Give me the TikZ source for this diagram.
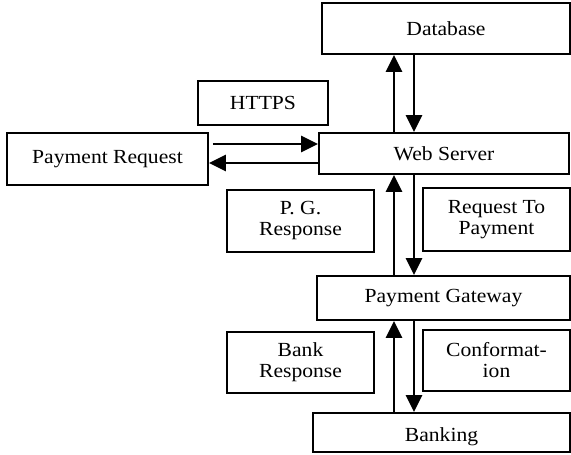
\documentclass[tikz,border=0pt]{standalone}
\usepackage{fontspec}
\setmainfont{Liberation Serif}[FakeStretch=1.08]
\usetikzlibrary{arrows.meta}
\begin{document}
\begin{tikzpicture}[x=1pt,y=-1pt,
  box/.style={draw,line width=1.8pt,inner sep=0pt,align=center,font=\fontsize{20}{21}\selectfont},
  arr/.style={line width=2.6pt,-{Triangle[width=16pt,length=17pt]}}]
\useasboundingbox (0,0) rectangle (571,455);
\node[box,minimum width=248,minimum height=51] (db) at (446,28.5) {Database};
\node[box,minimum width=130,minimum height=44] (https) at (263,103) {HTTPS};
\node[box,minimum width=201,minimum height=52] (pr) at (107.5,159) {Payment Request};
\node[box,minimum width=250,minimum height=41] (ws) at (444,153.5) {Web Server};
\node[box,minimum width=147,minimum height=62] (pgr) at (300.5,221) {P. G.\\Response};
\node[box,minimum width=147,minimum height=63] (rtp) at (496.5,219.5) {Request To\\Payment};
\node[box,minimum width=253,minimum height=44] (pg) at (443.5,298) {Payment Gateway};
\node[box,minimum width=147,minimum height=61] (br) at (300.5,362.5) {Bank\\Response};
\node[box,minimum width=147,minimum height=61] (conf) at (496.5,360.5) {Conformat-\\ion};
\node[box,minimum width=257,minimum height=39,text height=17pt,text depth=0pt] (bank) at (441.5,432.5) {Banking};
\coordinate (u) at (394,0);
\coordinate (d) at (414,0);
\coordinate (r) at (0,144);
\coordinate (l) at (0,163);
\draw[arr] (ws.north -| u) -- (db.south -| u);
\draw[arr] (db.south -| d) -- (ws.north -| d);
\draw[arr] (pg.north -| u) -- (ws.south -| u);
\draw[arr] (ws.south -| d) -- (pg.north -| d);
\draw[arr] (bank.north -| u) -- (pg.south -| u);
\draw[arr] (pg.south -| d) -- (bank.north -| d);
\draw[arr] ([xshift=4pt]pr.east |- r) -- (ws.west |- r);
\draw[arr] (ws.west |- l) -- (pr.east |- l);
\end{tikzpicture}
\end{document}
